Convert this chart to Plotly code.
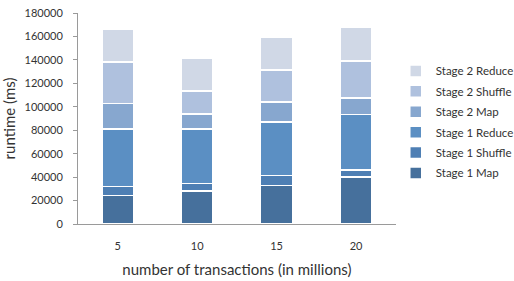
import plotly.graph_objects as go

categories = ["5", "10", "15", "20"]
stage1_map = [24500, 28000, 33000, 40000]
stage1_shuffle = [7500, 6500, 8500, 6000]
stage1_reduce = [49000, 46500, 45500, 47500]
stage2_map = [22000, 13000, 17000, 14000]
stage2_shuffle = [35000, 19500, 27500, 31500]
stage2_reduce = [28000, 27500, 28000, 29000]

series = [
    ("Stage 1 Map", stage1_map, "#46709c"),
    ("Stage 1 Shuffle", stage1_shuffle, "#4e7fb4"),
    ("Stage 1 Reduce", stage1_reduce, "#5b8fc3"),
    ("Stage 2 Map", stage2_map, "#87a7cf"),
    ("Stage 2 Shuffle", stage2_shuffle, "#afc1de"),
    ("Stage 2 Reduce", stage2_reduce, "#d0d8e6"),
]

fig = go.Figure()
n = len(series)
for i, (name, vals, col) in enumerate(series):
    fig.add_trace(go.Bar(
        x=categories, y=vals, name=name, legendgroup=name,
        legendrank=1000 + (n - i),
        marker=dict(color=col, line=dict(color="white", width=1.5)),
    ))

font_family = "Lato, Open Sans, sans-serif"
fig.update_layout(
    barmode="stack",
    bargap=0.6,
    width=514, height=281,
    margin=dict(l=78, r=101, t=13, b=57),
    paper_bgcolor="white", plot_bgcolor="white",
    font=dict(family=font_family, size=11, color="#333333"),
    showlegend=True,
    legend=dict(
        traceorder="grouped",
        xref="container", yref="container",
        x=0.770, y=0.566, xanchor="left", yanchor="middle",
        font=dict(size=11.5, color="#333333"),
        itemwidth=30,
        tracegroupgap=1.4,
        bgcolor="rgba(0,0,0,0)",
    ),
    xaxis=dict(
        automargin=False,
        showline=True, linecolor="#9a9a9a", linewidth=1,
        ticks="", showgrid=False,
        tickfont=dict(size=11),
        ticklabelstandoff=12,
        title=dict(text="number of transactions (in millions)", font=dict(size=15), standoff=13),
    ),
    yaxis=dict(
        automargin=False,
        range=[0, 180000], dtick=20000,
        showline=True, linecolor="#9a9a9a", linewidth=1,
        ticks="outside", ticklen=4, tickcolor="#9a9a9a",
        showgrid=False, zeroline=False,
        tickformat="d",
        tickfont=dict(size=11),
        ticklabelstandoff=8,
        ticklabeloverflow="allow",
        title=dict(text="runtime (ms)", font=dict(size=15), standoff=13),
    ),
)

fig.write_html(
    "out.html",
    config={"displayModeBar": False},
    post_script="document.body.style.margin='0px';",
)
